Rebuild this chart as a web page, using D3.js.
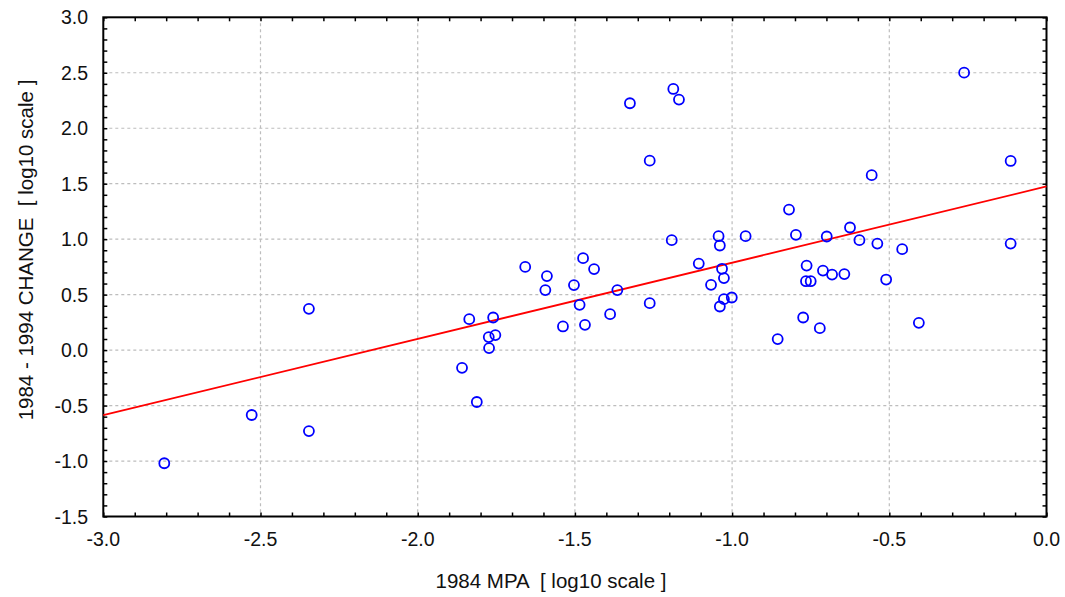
<!DOCTYPE html>
<html>
<head>
<meta charset="utf-8">
<script src="https://cdn.jsdelivr.net/npm/d3@7"></script>
<style>
  html, body { margin: 0; padding: 0; background: #fff; }
  svg { display: block; }
  text { font-family: "Liberation Sans", Arial, sans-serif; fill: #111; }
</style>
</head>
<body>
<svg id="chart" width="1065" height="597"></svg>
<script>
const xValues = [-2.806,-2.528,-2.346,-2.346,-1.859,-1.836,-1.812,-1.774,-1.773,-1.760,
  -1.753,-1.658,-1.594,-1.589,-1.538,-1.503,-1.485,-1.474,-1.468,-1.439,
  -1.388,-1.365,-1.325,-1.262,-1.262,-1.192,-1.187,-1.169,-1.106,-1.067,
  -1.043,-1.039,-1.039,-1.032,-1.026,-1.026,-1.001,-0.957,-0.855,-0.819,
  -0.797,-0.774,-0.765,-0.763,-0.750,-0.721,-0.711,-0.699,-0.682,-0.643,
  -0.625,-0.595,-0.556,-0.538,-0.510,-0.459,-0.406,-0.262,-0.114,-0.114];
const yValues = [-1.02,-0.585,0.372,-0.73,-0.16,0.279,-0.468,0.117,0.018,0.294,
  0.135,0.750,0.541,0.667,0.213,0.586,0.408,0.829,0.228,0.730,
  0.324,0.541,2.225,1.708,0.423,0.991,2.354,2.258,0.780,0.588,
  1.027,0.943,0.393,0.733,0.649,0.459,0.474,1.027,0.099,1.267,
  1.039,0.294,0.621,0.762,0.621,0.198,0.717,1.024,0.681,0.685,
  1.105,0.991,1.577,0.960,0.636,0.910,0.246,2.501,1.705,0.960];
const fitX = [-3.0, 0.0];
const fitY = [-0.586, 1.475];
const xTicks = [-3.0,-2.5,-2.0,-1.5,-1.0,-0.5,0.0];
const yTicks = [3.0,2.5,2.0,1.5,1.0,0.5,0.0,-0.5,-1.0,-1.5];
const xTitle = "1984 MPA  [ log10 scale ]";
const yTitle = "1984 - 1994 CHANGE  [ log10 scale ]";

const L = 103.3, R = 1046.5, T = 17.3, B = 516.5;
const svg = d3.select("#chart");
const x = d3.scaleLinear().domain([-3, 0]).range([L, R]);
const y = d3.scaleLinear().domain([-1.5, 3]).range([B, T]);

// grid
const g = svg.append("g");
g.selectAll(".gx").data(xTicks.slice(1, -1)).enter().append("line")
  .attr("x1", d => x(d)).attr("x2", d => x(d)).attr("y1", T).attr("y2", B)
  .attr("stroke", "#bdbdbd").attr("stroke-width", 1.2).attr("stroke-dasharray", "3,3");
g.selectAll(".gy").data(yTicks.slice(1, -1)).enter().append("line")
  .attr("y1", d => y(d)).attr("y2", d => y(d)).attr("x1", L).attr("x2", R)
  .attr("stroke", "#bdbdbd").attr("stroke-width", 1.2).attr("stroke-dasharray", "3,3");

// minor/major ticks inward on all four sides
const xMinor = d3.range(-30, 1).map(i => i / 10);
const yMinor = d3.range(-15, 31).map(i => i / 10);
const tl = 4;
svg.append("g").attr("transform", `translate(0,${B})`)
  .call(d3.axisBottom(x).tickValues(xMinor).tickSize(-tl).tickFormat(""))
  .call(a => a.select(".domain").remove());
svg.append("g").attr("transform", `translate(0,${T})`)
  .call(d3.axisTop(x).tickValues(xMinor).tickSize(-tl).tickFormat(""))
  .call(a => a.select(".domain").remove());
svg.append("g").attr("transform", `translate(${L},0)`)
  .call(d3.axisLeft(y).tickValues(yMinor).tickSize(-tl).tickFormat(""))
  .call(a => a.select(".domain").remove());
svg.append("g").attr("transform", `translate(${R},0)`)
  .call(d3.axisRight(y).tickValues(yMinor).tickSize(-tl).tickFormat(""))
  .call(a => a.select(".domain").remove());
svg.selectAll(".tick line").attr("stroke", "#000").attr("stroke-width", 1.5);

// frame
svg.append("rect").attr("x", L).attr("y", T).attr("width", R - L).attr("height", B - T)
  .attr("fill", "none").attr("stroke", "#000").attr("stroke-width", 2);

// tick labels
svg.selectAll(".xl").data(xTicks).enter().append("text")
  .attr("x", d => x(d)).attr("y", B + 29).attr("text-anchor", "middle")
  .attr("font-size", 19.5).text(d => d.toFixed(1));
svg.selectAll(".yl").data(yTicks).enter().append("text")
  .attr("x", 88).attr("y", d => y(d) + 7).attr("text-anchor", "end")
  .attr("font-size", 19.5).text(d => d.toFixed(1));

// titles
svg.append("text").attr("x", 551).attr("y", 588).attr("text-anchor", "middle")
  .attr("font-size", 20.5).style("white-space", "pre").text(xTitle);
svg.append("text").attr("transform", `translate(33,250) rotate(-90)`)
  .attr("text-anchor", "middle").attr("font-size", 20.5)
  .style("white-space", "pre").text(yTitle);

// regression line
svg.append("line")
  .attr("x1", x(fitX[0])).attr("y1", y(fitY[0]))
  .attr("x2", x(fitX[1])).attr("y2", y(fitY[1]))
  .attr("stroke", "#ff0000").attr("stroke-width", 1.8);

// points
svg.append("g").selectAll("circle").data(xValues.map((v, i) => [v, yValues[i]]))
  .enter().append("circle")
  .attr("cx", d => x(d[0])).attr("cy", d => y(d[1])).attr("r", 5)
  .attr("fill", "none").attr("stroke", "#0000ff").attr("stroke-width", 1.8);
</script>
</body>
</html>
